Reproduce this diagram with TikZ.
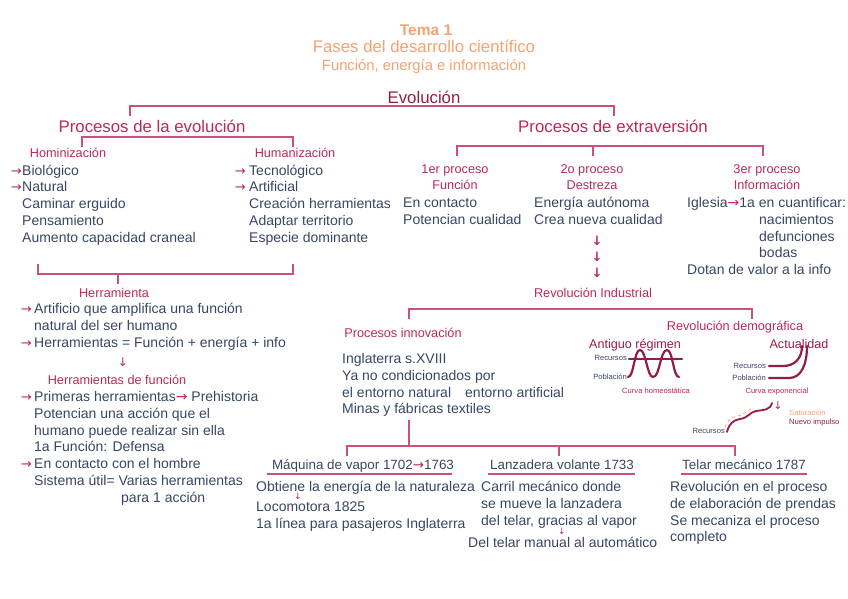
\documentclass[tikz,border=0pt]{standalone}
\usepackage{fontspec}
\setmainfont{Liberation Sans}
\newfontfamily\arrowfont{DejaVu Sans}
\usetikzlibrary{math, positioning}
\definecolor{myorange}{RGB}{246,162,112}
\definecolor{myred}{RGB}{190,40,85}
\definecolor{mydark}{RGB}{150,28,72}
\definecolor{myline}{RGB}{205,80,120}
\definecolor{mytext}{RGB}{55,70,98}
\newcommand{\ra}{{\arrowfont\color{myred}→}}

\begin{document}
\begin{tikzpicture}[x=1pt,y=-1pt,
  every node/.style={inner sep=0pt, text depth=0pt},
  lbody/.style={anchor=west, text=mytext, font=\fontsize{14}{16}\selectfont, text height=10pt},
  lhead/.style={text=myred, font=\fontsize{12.7}{15}\selectfont, text height=9pt},
  lbig/.style={text=myred, font=\fontsize{16.8}{20}\selectfont, text height=12pt},
  ltitle/.style={text=mytext, font=\fontsize{13.4}{16}\selectfont, text height=9.6pt},
  lsmall/.style={text=mytext, font=\fontsize{7.6}{9}\selectfont, text height=5.4pt},
  arr/.style={text=myred, font=\arrowfont\fontsize{13}{16}\selectfont, text height=10pt},
  smallarr/.style={text=myred, font=\arrowfont\fontsize{9}{12}\selectfont, text height=6.5pt},
  brk/.style={draw=myline, line width=1.2pt},
  uline/.style={draw=myline, line width=1.8pt},
  demoline/.style={draw=mydark, line width=2.2pt, line cap=round}]
\tikzmath{
\t=10;
}
\useasboundingbox (0,0) rectangle (848,599);

% title
\node[text=myorange, font=\bfseries\fontsize{15.5}{18}\selectfont, text height=11pt] (tema) at (426,30) {Tema 1};
\node[text=myorange, font=\fontsize{16.8}{20}\selectfont, text height=12pt] (fases) at (424,47) {Fases del desarrollo científico};
\node[text=myorange, font=\fontsize{14.8}{18}\selectfont, text height=10.6pt] (fei) at (424,65) {Función, energía e información};

\node[lbig, text=mydark] (evo) at (424,97) {Evolución};
\draw[brk] (130,106+\t) -- (130,106) -- (614,106) -- (614,106+\t);
\node[lbig] (pevo) at (152,126) {Procesos de la evolución};
\node[lbig] (pext) at (613,126) {Procesos de extraversión};

% procesos de la evolucion
\draw[brk] (82,137+\t) -- (82,137) -- (293,137) -- (293,137+\t);
\node[lhead] (homi) at (68,153) {Hominización};
\node[lhead] (huma) at (295,153) {Humanización};

\node[lbody] (bio) at (22,170) {Biológico};
\node[arr, left=0pt of bio] {→};
\node[lbody] (nat) at (22,186) {Natural};
\node[arr, left=0pt of nat] {→};
\node[lbody] (cam) at (22,203) {Caminar erguido};
\node[lbody] (pen) at (22,220) {Pensamiento};
\node[lbody] (aum) at (22,237) {Aumento capacidad craneal};

\node[lbody] (tec) at (249,170) {Tecnológico};
\node[arr, left=3pt of tec] {→};
\node[lbody] (art) at (249,186) {Artificial};
\node[arr, left=3pt of art] {→};
\node[lbody] (cre) at (249,203) {Creación herramientas};
\node[lbody] (ada) at (249,220) {Adaptar territorio};
\node[lbody] (esp) at (249,237) {Especie dominante};

\draw[brk] (38,264) -- (38,274) -- (293,274) -- (293,264);
\draw[brk] (118,274) -- (118,284);

% herramienta
\node[lhead] (herr) at (114,293) {Herramienta};
\node[lbody] (h1) at (34,308) {Artificio que amplifica una función};
\node[arr, left=2pt of h1] {→};
\node[lbody] (h2) at (34,325) {natural del ser humano};
\node[lbody] (h3) at (34,342) {Herramientas = Función + energía + info};
\node[arr, left=2pt of h3] {→};
\node[arr, font=\arrowfont\fontsize{12}{14}\selectfont] (h4) at (123,361) {↓};
\node[lhead] (hfun) at (117,380) {Herramientas de función};
\node[lbody] (f1) at (34,396) {Primeras herramientas\ra\ Prehistoria};
\node[arr, left=2pt of f1] {→};
\node[lbody] (f2) at (34,413) {Potencian una acción que el};
\node[lbody] (f3) at (34,430) {humano puede realizar sin ella};
\node[lbody] (f4) at (34,446) {1a Función: Defensa};
\node[lbody] (f5) at (34,463) {En contacto con el hombre};
\node[arr, left=2pt of f5] {→};
\node[lbody] (f6) at (34,480) {Sistema útil= Varias herramientas};
\node[lbody] (f7) at (121,497) {para 1 acción};

% procesos de extraversion
\draw[brk] (457,146+\t) -- (457,146) -- (763,146) -- (763,146+\t);
\draw[brk] (593,146) -- (593,146+\t);
\node[lhead] (p1) at (455,169) {1er proceso};
\node[lhead] (p1b) at (455,185) {Función};
\node[lhead] (p2) at (592,169) {2o proceso};
\node[lhead] (p2b) at (592,185) {Destreza};
\node[lhead] (p3) at (767,169) {3er proceso};
\node[lhead] (p3b) at (767,185) {Información};

\node[lbody] (e1) at (403,202) {En contacto};
\node[lbody] (e2) at (403,219) {Potencian cualidad};
\node[lbody] (d1) at (534,202) {Energía autónoma};
\node[lbody] (d2) at (534,219) {Crea nueva cualidad};
\node[arr] (dw1) at (597,240) {\textbf{↓}};
\node[arr] (dw2) at (597,256) {\textbf{↓}};
\node[arr] (dw3) at (597,272) {\textbf{↓}};
\node[lbody] (i1) at (687,202) {Iglesia\ra1a en cuantificar:};
\node[lbody] (i2) at (759,219) {nacimientos};
\node[lbody] (i3) at (759,236) {defunciones};
\node[lbody] (i4) at (759,252) {bodas};
\node[lbody] (i5) at (687,269) {Dotan de valor a la info};

% revolucion industrial
\node[lhead] (rind) at (593,293) {Revolución Industrial};
\draw[brk] (409,309+\t) -- (409,309) -- (752,309) -- (752,309+\t);
\node[lhead] (pinn) at (403,333) {Procesos innovación};
\node[lhead] (rdem) at (735,326) {Revolución demográfica};
\node[lhead, text=mydark, font=\fontsize{12.6}{15}\selectfont] (antg) at (635,344) {Antiguo régimen};
\node[lhead, text=mydark, font=\fontsize{12.6}{15}\selectfont] (actu) at (799,344) {Actualidad};

\node[lbody] (n1) at (342,358) {Inglaterra s.XVIII};
\node[lbody] (n2) at (342,375) {Ya no condicionados por};
\node[lbody] (n3) at (342,392) {el entorno natural};
\node[lbody] (n4) at (465,392) {entorno artificial};
\node[lbody] (n5) at (342,408) {Minas y fábricas textiles};

% curvas
\node[lsmall, anchor=east] (rec1) at (627,358) {Recursos};
\node[lsmall, anchor=east] (pob1) at (627,377) {Población};
\draw[demoline] (629,359) -- (682,359);
\draw[demoline] (628,377) .. controls (634,377) and (634,350) .. (640,350)
  .. controls (646,350) and (647,377) .. (653,377)
  .. controls (660,377) and (660,350) .. (667,350)
  .. controls (673,350) and (673,377) .. (679,377);
\node[lsmall, text=myred] (chom) at (656,391) {Curva homeostática};

\node[lsmall, anchor=east] (rec2) at (766,366) {Recursos};
\node[lsmall, anchor=east] (pob2) at (766,378) {Población};
\draw[demoline] (769,366) -- (783,366) .. controls (795,366) and (802,358) .. (802,346);
\draw[demoline] (769,378) -- (789,378) .. controls (801,378) and (807,365) .. (807,346);
\node[lsmall, text=myred] (cexp) at (777,391) {Curva exponencial};
\node[arr, font=\arrowfont\fontsize{11}{14}\selectfont] (cdw) at (778,404) {↓};
\node[lsmall, anchor=west, text=myorange] (sat) at (789,413) {Saturación};
\node[lsmall, anchor=west, text=mydark] (nimp) at (789,422) {Nuevo impulso};
\node[lsmall, anchor=east] (rec3) at (725,431) {Recursos};
\draw[demoline, line width=1.8pt] (727,432) .. controls (729,424) and (733,420) .. (740,419)
  .. controls (748,418) and (750,412) .. (756,411)
  .. controls (764,410) and (770,410) .. (772,403);
\draw[myorange, line width=0.8pt, dashed] (725,427) .. controls (727,421) and (731,417) .. (737,416)
  .. controls (745,415) and (748,409) .. (754,408);

% maquinas
\draw[brk] (409,420) -- (409,446);
\draw[brk] (347,446+\t) -- (347,446) -- (735,446) -- (735,446+\t);
\draw[brk] (559,446) -- (559,446+\t);

\node[ltitle] (maq) at (363,465) {Máquina de vapor 1702\ra1763};
\node[ltitle] (lan) at (562,465) {Lanzadera volante 1733};
\node[ltitle] (tel) at (744,465) {Telar mecánico 1787};
\draw[uline] (267,474) -- (452,474);
\draw[uline] (488,474) -- (635,474);
\draw[uline] (681,474) -- (807,474);

\node[lbody] (m1) at (256,486) {Obtiene la energía de la naturaleza};
\node[smallarr] (m2) at (298,496) {↓};
\node[lbody] (m3) at (256,506) {Locomotora 1825};
\node[lbody] (m4) at (256,523) {1a línea para pasajeros Inglaterra};

\node[lbody] (l1) at (481,486) {Carril mecánico donde};
\node[lbody] (l2) at (481,503) {se mueve la lanzadera};
\node[lbody] (l3) at (481,520) {del telar, gracias al vapor};
\node[smallarr] (l4) at (562,531) {↓};
\node[lbody] (l5) at (468,542) {Del telar manual al automático};

\node[lbody] (t1) at (670,486) {Revolución en el proceso};
\node[lbody] (t2) at (670,503) {de elaboración de prendas};
\node[lbody] (t3) at (670,520) {Se mecaniza el proceso};
\node[lbody] (t4) at (670,536) {completo};
\end{tikzpicture}
\end{document}
